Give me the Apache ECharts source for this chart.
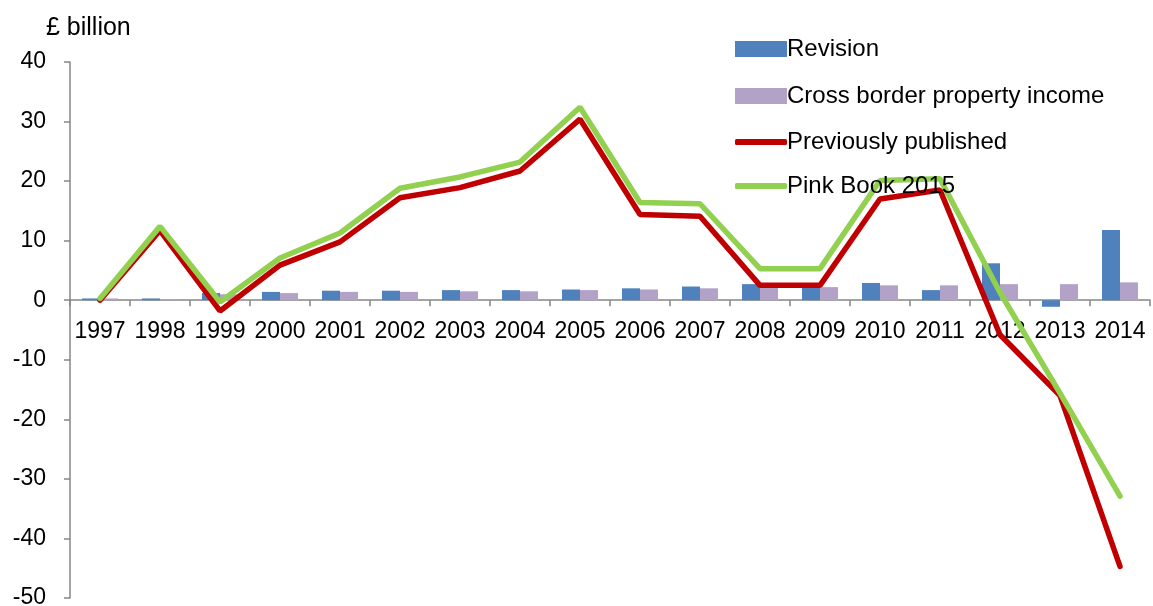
<!DOCTYPE html>
<html>
<head>
<meta charset="utf-8">
<script src="https://cdn.jsdelivr.net/npm/echarts@6/dist/echarts.min.js"></script>
<style>
html,body{margin:0;padding:0;background:#fff;}
#c{width:1153px;height:606px;}
</style>
</head>
<body>
<div id="c"></div>
<script>
const years = ['1997','1998','1999','2000','2001','2002','2003','2004','2005','2006','2007','2008','2009','2010','2011','2012','2013','2014'];
const revision = [0.3,0.3,1.2,1.4,1.6,1.6,1.7,1.7,1.8,2.0,2.3,2.7,2.6,2.9,1.7,6.2,-1.1,11.8];
const crossBorder = [0.3,0.2,1.0,1.2,1.4,1.4,1.5,1.5,1.7,1.8,2.0,2.2,2.2,2.5,2.5,2.7,2.7,3.0];
const previouslyPublished = [0,11.7,-1.8,5.9,9.8,17.2,18.9,21.7,30.4,14.4,14.1,2.5,2.5,17.0,18.5,-5.8,-16.0,-44.7];
const pinkBook2015 = [0.3,12.4,-0.3,7.1,11.3,18.8,20.7,23.2,32.4,16.4,16.2,5.3,5.3,20.1,20.4,1.3,-15.6,-32.9];

const FONT = 'Liberation Sans';
const chart = echarts.init(document.getElementById('c'));
const option = {
  animation:false,
  textStyle:{fontFamily:FONT},
  title:{text:'£ billion',left:41,top:11,textStyle:{fontFamily:FONT,fontSize:25,fontWeight:'normal',color:'#000'}},
  legend:[{
    orient:'vertical',left:730,top:32,itemWidth:52,itemHeight:16,itemGap:23,
    textStyle:{fontFamily:FONT,fontSize:24,color:'#000',padding:[0,0,0,-5]},
    data:[
      {name:'Revision',icon:'rect'},
      {name:'Cross border property income',icon:'rect'}
    ]
  },{
    orient:'vertical',left:730,top:125,itemWidth:52,itemHeight:6,itemGap:20,
    textStyle:{fontFamily:FONT,fontSize:24,color:'#000',padding:[0,0,0,-5]},
    data:[
      {name:'Previously published',icon:'roundRect'},
      {name:'Pink Book 2015',icon:'roundRect'}
    ]
  }],
  grid:{left:70,right:3,top:62,bottom:8,containLabel:false,outerBoundsMode:'none'},
  xAxis:{
    type:'category',data:years,position:'bottom',offset:0,
    axisLine:{onZero:false,lineStyle:{color:'#868686',width:1.5}},
    axisTick:{show:true,length:6,lineStyle:{color:'#868686',width:1.5}},
    axisLabel:{color:'#000',fontSize:23,fontFamily:FONT,margin:20,interval:0}
  },
  yAxis:{
    type:'value',min:-50,max:40,interval:10,
    splitLine:{show:false},
    axisLine:{show:true,lineStyle:{color:'#868686',width:1.5}},
    axisTick:{show:true,length:6,lineStyle:{color:'#868686',width:1.5}},
    axisLabel:{color:'#000',fontSize:23,fontFamily:FONT,margin:24}
  },
  series:[
    {name:'Revision',type:'bar',data:revision,barWidth:18,barGap:'0%',itemStyle:{color:'#4F81BD'}},
    {name:'Cross border property income',type:'bar',data:crossBorder,barWidth:18,barGap:'0%',itemStyle:{color:'#B3A2C7'}},
    {name:'Previously published',type:'line',data:previouslyPublished,symbol:'none',
      lineStyle:{color:'#C00000',width:5.5,cap:'round'},itemStyle:{color:'#C00000'}},
    {name:'Pink Book 2015',type:'line',data:pinkBook2015,symbol:'none',
      lineStyle:{color:'#92D050',width:5.5,cap:'round'},itemStyle:{color:'#92D050'}}
  ]
};
chart.setOption(option);
// move the category axis (line, ticks, labels) up to the zero line
const zeroY = chart.convertToPixel({yAxisIndex:0}, 0);
const minY = chart.convertToPixel({yAxisIndex:0}, -50);
chart.setOption({xAxis:{offset:-(minY - zeroY)}});
</script>
</body>
</html>
